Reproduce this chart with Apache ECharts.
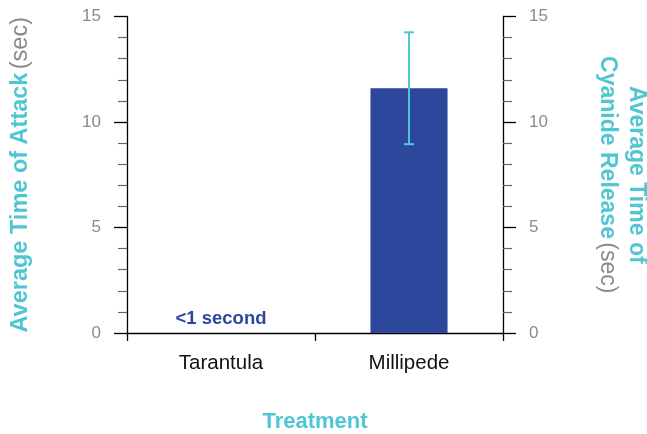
<!DOCTYPE html>
<html><head><meta charset="utf-8">
<script src="https://cdn.jsdelivr.net/npm/echarts@6/dist/echarts.min.js"></script>
<style>html,body{margin:0;padding:0;background:#fff}#c{width:647px;height:434px}</style>
</head><body><div id="c"></div>
<script>
var categories = ['Tarantula', 'Millipede'];
var attackTimes = [0, 11.6];
var errorSizes = [null, 2.65];
var barLabels = ['<1 second', ''];
var yTicks = [0, 5, 10, 15];

var FONT = '"Liberation Sans", Arial, Helvetica, sans-serif';
var CYAN = '#4fc6d2';
var BLUE = '#2d479c';
var GRAY = '#8a8a8a';

var chart = echarts.init(document.getElementById('c'), null, {renderer: 'canvas'});

function yAxisBase(pos) {
  return {
    type: 'value', position: pos, min: yTicks[0], max: yTicks[yTicks.length - 1], interval: 5,
    axisLine: {show: true, lineStyle: {color: '#000', width: 1.3}},
    axisTick: {show: true, inside: false, length: 13, lineStyle: {color: '#000', width: 1.3}},
    minorTick: {show: true, splitNumber: 5, length: 9, lineStyle: {color: '#666', width: 1.2}},
    splitLine: {show: false},
    axisLabel: {color: GRAY, fontSize: 17, fontFamily: FONT, margin: 26},
    nameLocation: 'middle',
    nameTextStyle: {fontFamily: FONT}
  };
}

var yLeft = yAxisBase('left');
yLeft.name = '{a|Average Time of Attack} {b|(sec)}';
yLeft.nameRotate = 90;
yLeft.nameGap = 94;
yLeft.nameTextStyle = {
  fontFamily: FONT,
  rich: {
    a: {color: CYAN, fontSize: 23.5, fontWeight: 'bold', fontFamily: FONT},
    b: {color: GRAY, fontSize: 23.5, fontFamily: FONT}
  }
};

var yRight = yAxisBase('right');
yRight.name = '{a|Average Time of}\n{a|Cyanide Release} {b|(sec)}';
yRight.nameRotate = -90;
yRight.nameGap = 90;
yRight.nameTextStyle = {
  fontFamily: FONT, lineHeight: 29, align: 'center',
  rich: {
    a: {color: CYAN, fontSize: 23, fontWeight: 'bold', fontFamily: FONT, lineHeight: 29},
    b: {color: GRAY, fontSize: 23, fontFamily: FONT, lineHeight: 29}
  }
};

var option = {
  animation: false,
  backgroundColor: '#fff',
  grid: {left: 127, right: 144, top: 16.5, bottom: 101, containLabel: false, outerBoundsMode: 'none'},
  xAxis: {
    type: 'category', data: categories, boundaryGap: true,
    axisLine: {show: true, lineStyle: {color: '#000', width: 1.3}},
    axisTick: {show: true, length: 8, alignWithLabel: false, lineStyle: {color: '#000', width: 1.3}},
    axisLabel: {color: '#111', fontSize: 20.5, fontFamily: FONT, margin: 20},
    name: 'Treatment', nameLocation: 'middle', nameGap: 78,
    nameTextStyle: {color: CYAN, fontSize: 22, fontWeight: 'bold', fontFamily: FONT}
  },
  yAxis: [yLeft, yRight],
  series: [
    {
      type: 'bar', yAxisIndex: 0, barWidth: '41%',
      data: attackTimes.map(function (v, i) {
        return {value: v, label: {show: !!barLabels[i], formatter: barLabels[i]}};
      }),
      itemStyle: {color: BLUE},
      label: {position: 'top', distance: 5, color: BLUE, fontSize: 18.5, fontWeight: 'bold', fontFamily: FONT}
    },
    {
      type: 'custom', yAxisIndex: 0, z: 5,
      data: categories.map(function (c, i) {
        return errorSizes[i] == null ? [i, null, null] : [i, attackTimes[i] - errorSizes[i], attackTimes[i] + errorSizes[i]];
      }),
      renderItem: function (params, api) {
        var lo = api.value(1), hi = api.value(2);
        if (lo == null || hi == null || isNaN(lo)) return;
        var p1 = api.coord([api.value(0), hi]);
        var p2 = api.coord([api.value(0), lo]);
        var hw = 5;
        var st = {stroke: CYAN, lineWidth: 2};
        return {
          type: 'group',
          children: [
            {type: 'line', shape: {x1: p1[0], y1: p1[1], x2: p2[0], y2: p2[1]}, style: st},
            {type: 'line', shape: {x1: p1[0] - hw, y1: p1[1], x2: p1[0] + hw, y2: p1[1]}, style: st},
            {type: 'line', shape: {x1: p2[0] - hw, y1: p2[1], x2: p2[0] + hw, y2: p2[1]}, style: st}
          ]
        };
      }
    }
  ]
};
chart.setOption(option);
</script>
</body></html>
